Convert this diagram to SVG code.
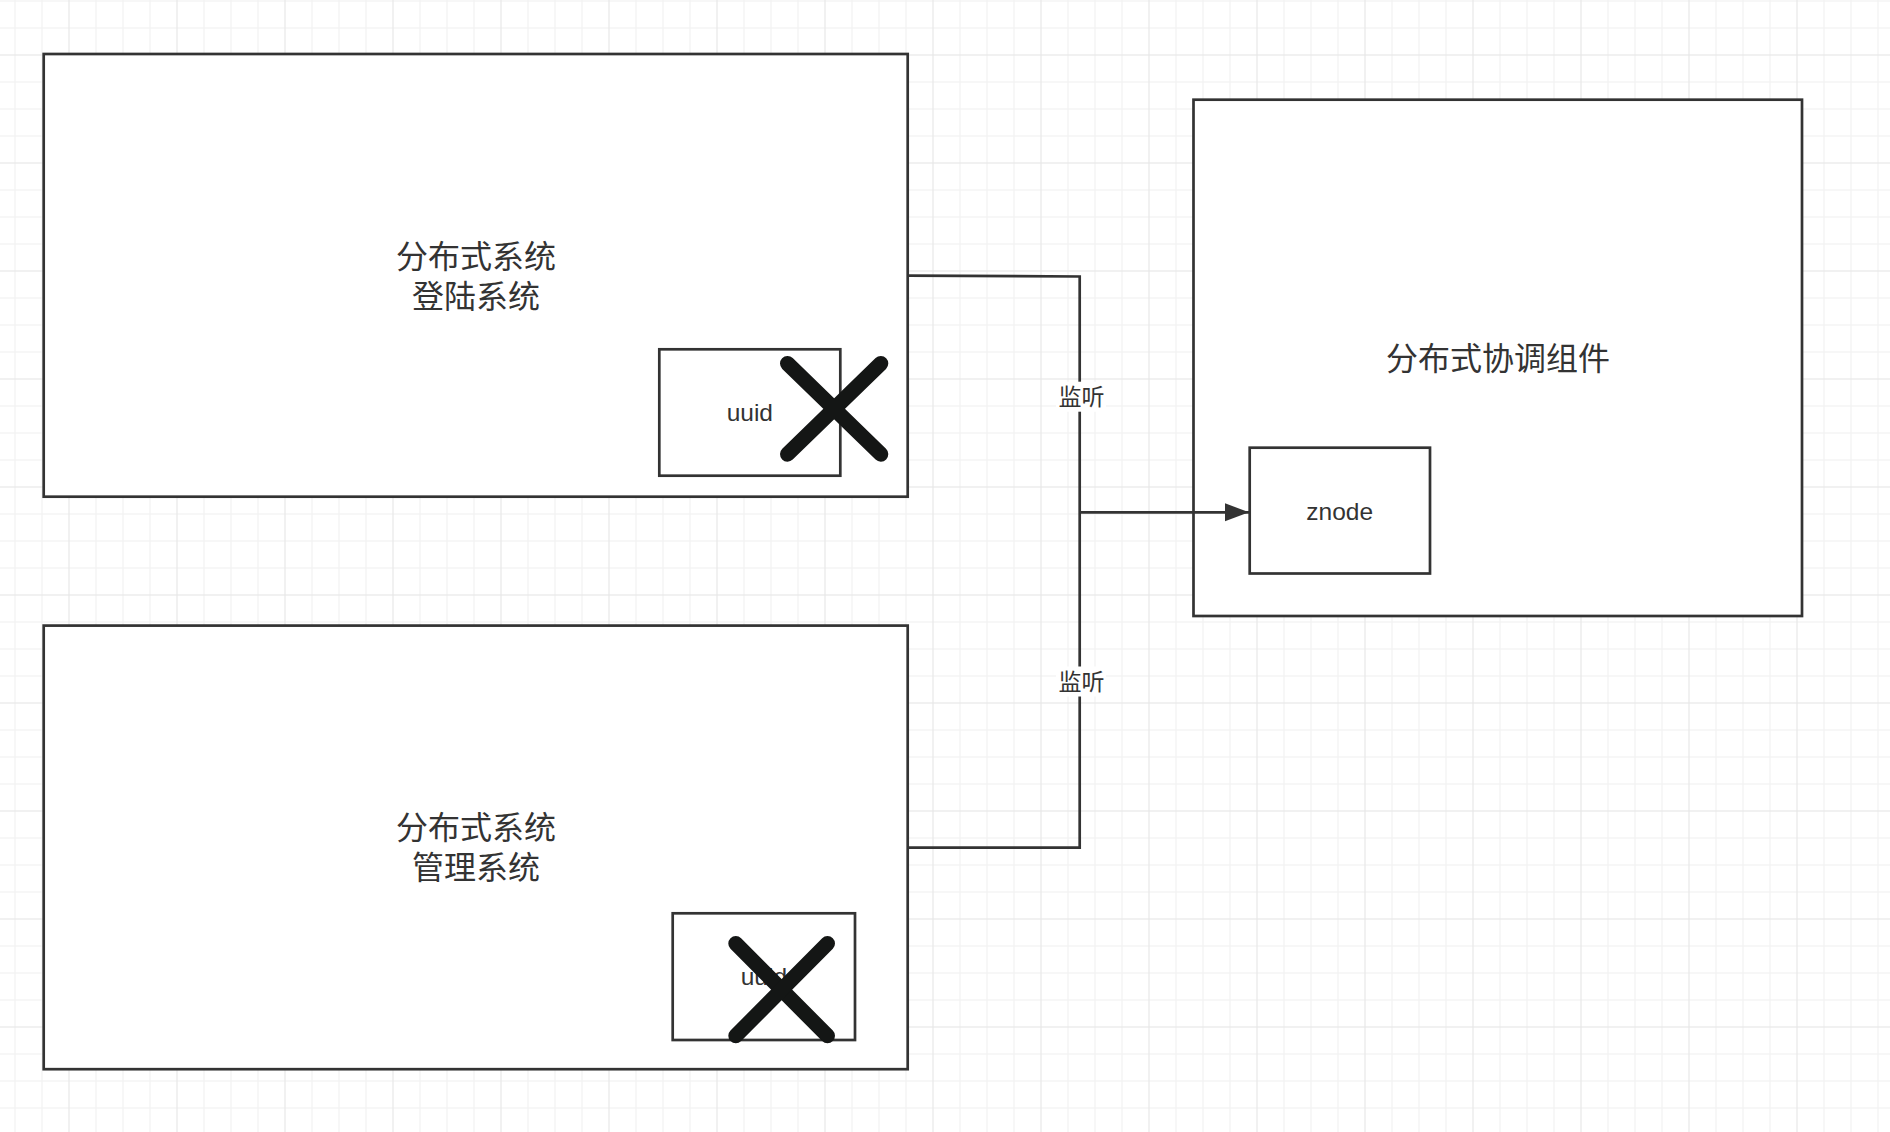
<svg xmlns="http://www.w3.org/2000/svg" width="1890" height="1132" viewBox="0 0 1890 1132">
  <style>
    .box { fill: #ffffff; stroke: #333333; stroke-width: 2.7; }
    .wire { fill: none; stroke: #333333; stroke-width: 2.7; }
    .cross { stroke: #141615; stroke-width: 15; stroke-linecap: round; fill: none; }
    .zh { font-family: "Noto Sans CJK SC", sans-serif; font-size: 32px; fill: #333333; text-anchor: middle; }
    .lbl { font-family: "Noto Sans CJK SC", sans-serif; font-size: 23px; fill: #333333; text-anchor: middle; }
    .en { font-family: "Liberation Sans", "Noto Sans CJK SC", sans-serif; font-size: 24.5px; fill: #333333; text-anchor: middle; }
  </style>
  <defs>
    <pattern id="grid" patternUnits="userSpaceOnUse" x="69" y="55" width="108" height="108">
      <rect x="0" y="0" width="108" height="108" fill="#ffffff"/>
      <g fill="#f2f2f2">
        <rect x="26.4" y="0" width="1.2" height="108"/>
        <rect x="53.4" y="0" width="1.2" height="108"/>
        <rect x="80.4" y="0" width="1.2" height="108"/>
        <rect x="0" y="26.4" width="108" height="1.2"/>
        <rect x="0" y="53.4" width="108" height="1.2"/>
        <rect x="0" y="80.4" width="108" height="1.2"/>
      </g>
      <g fill="#e8e8e8">
        <rect x="-0.6" y="0" width="1.2" height="108"/>
        <rect x="107.4" y="0" width="1.2" height="108"/>
        <rect x="0" y="-0.6" width="108" height="1.2"/>
        <rect x="0" y="107.4" width="108" height="1.2"/>
      </g>
    </pattern>
    <marker id="arrow" markerUnits="userSpaceOnUse" markerWidth="26" markerHeight="20" refX="24" refY="9" orient="auto">
      <path d="M0,0 L24,9 L0,18 Z" fill="#333333"/>
    </marker>
  </defs>

  <rect x="0" y="0" width="1890" height="1132" fill="url(#grid)"/>

  <g id="login-system">
    <rect class="box" x="43.7" y="54" width="864" height="442.7"/>
    <text class="zh" x="476" y="267.5">分布式系统<tspan x="476" dy="40">登陆系统</tspan></text>
  </g>
  <g id="uuid-login">
    <rect class="box" x="659.3" y="349.3" width="181" height="126.4"/>
    <text class="en" x="749.8" y="420.7">uuid</text>
  </g>
  <g id="cross-login">
    <line class="cross" x1="787.5" y1="363.5" x2="880.8" y2="454.2"/>
    <line class="cross" x1="880.8" y1="363.5" x2="787.5" y2="454.2"/>
  </g>

  <g id="admin-system">
    <rect class="box" x="43.7" y="625.6" width="864" height="443.6"/>
    <text class="zh" x="476" y="839.1">分布式系统<tspan x="476" dy="40">管理系统</tspan></text>
  </g>
  <g id="uuid-admin">
    <rect class="box" x="672.7" y="913.3" width="182.3" height="126.7"/>
    <text class="en" x="763.9" y="984.7">uuid</text>
  </g>
  <g id="cross-admin">
    <line class="cross" x1="735.8" y1="943.5" x2="827.5" y2="1035.8"/>
    <line class="cross" x1="827.5" y1="943.5" x2="735.8" y2="1035.8"/>
  </g>

  <g id="coordinator">
    <rect class="box" x="1193.5" y="99.7" width="608.5" height="516.3"/>
    <text class="zh" x="1498" y="369.7">分布式协调组件</text>
  </g>
  <g id="znode">
    <rect class="box" x="1249.7" y="447.7" width="180.3" height="125.8"/>
    <text class="en" x="1339.7" y="520">znode</text>
  </g>

  <g id="connectors">
    <path class="wire" d="M907.7,275.7 L1079.7,276.5 L1079.7,847.7 L907.7,847.7"/>
    <path class="wire" d="M1079.7,512.3 L1249,512.3" marker-end="url(#arrow)"/>
    <rect x="1056" y="381.7" width="50" height="30" fill="#ffffff"/>
    <text class="lbl" x="1081.5" y="404.5">监听</text>
    <rect x="1056" y="666.5" width="50" height="30" fill="#ffffff"/>
    <text class="lbl" x="1081.5" y="690.3">监听</text>
  </g>
</svg>
